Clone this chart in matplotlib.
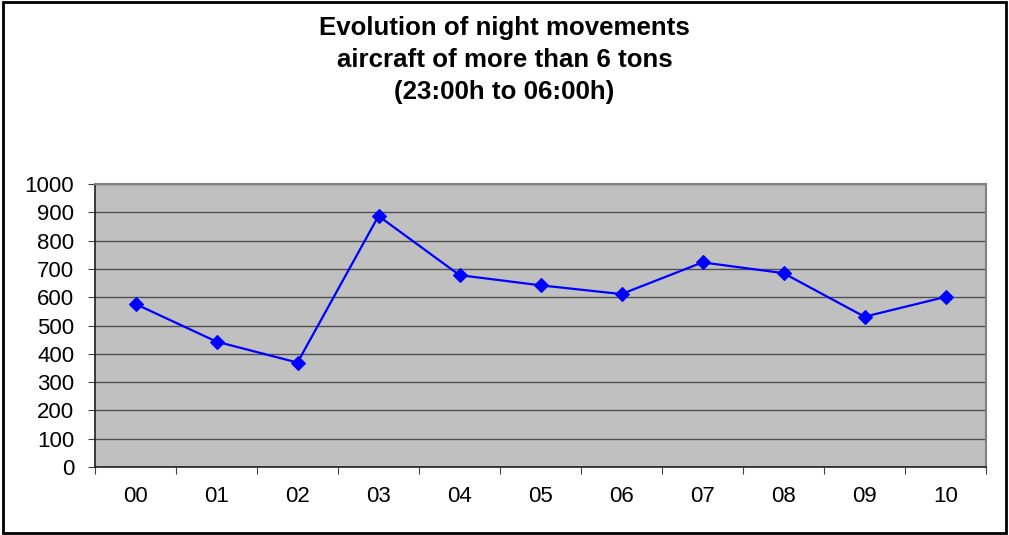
import numpy as np
import matplotlib.pyplot as plt
from matplotlib.patches import Rectangle

plt.rcParams['font.family'] = ['Liberation Sans', 'DejaVu Sans']

# Night movements per year, aircraft > 6 tons
years = ['00', '01', '02', '03', '04', '05', '06', '07', '08', '09', '10']
movements = [576, 443, 369, 887, 678, 642, 611, 723, 685, 531, 601]
y_ticks = [0, 100, 200, 300, 400, 500, 600, 700, 800, 900, 1000]

W, H = 1009, 535
fig = plt.figure(figsize=(W / 100, H / 100), dpi=100)

# outer chart frame
fig.patches.append(Rectangle((3 / W, 2 / H), (W - 6) / W, (H - 4) / H,
                             transform=fig.transFigure, fill=False,
                             edgecolor='black', linewidth=2))

ax = fig.add_axes([95 / W, (H - 467) / H, 891 / W, 283 / H])
ax.set_facecolor('#c0c0c0')

x = np.arange(len(years))
ax.plot(x, movements, color='#0000ff', linewidth=1.6, marker='D',
        markersize=7, markeredgewidth=0.8, zorder=3)

ax.set_xlim(-0.5, len(years) - 0.5)
ax.set_ylim(0, 1000)
ax.set_yticks(y_ticks)
ax.yaxis.grid(True, color='#505050', linewidth=1.0)
ax.set_axisbelow(True)

ax.set_xticks(x)
ax.set_xticklabels(years)
ax.set_xticks(np.arange(-0.5, len(years), 1), minor=True)
ax.tick_params(axis='x', which='major', length=0, pad=14, labelsize=16)
ax.tick_params(axis='x', which='minor', length=5, width=0.8, color='#404040',
               direction='out')
ax.tick_params(axis='y', length=5, width=0.8, color='#404040', pad=10,
               labelsize=16)

for side in ['left', 'bottom']:
    ax.spines[side].set_color('#202020')
    ax.spines[side].set_linewidth(1.2)
for side in ['top', 'right']:
    ax.spines[side].set_color('#808080')
    ax.spines[side].set_linewidth(1.5)

fig.text(0.5, 1 - 60 / H,
         'Evolution of night movements\naircraft of more than 6 tons\n(23:00h to 06:00h)',
         ha='center', va='center', fontsize=18.6, fontweight='bold',
         linespacing=1.4)

fig.savefig('out.png', dpi=100)
